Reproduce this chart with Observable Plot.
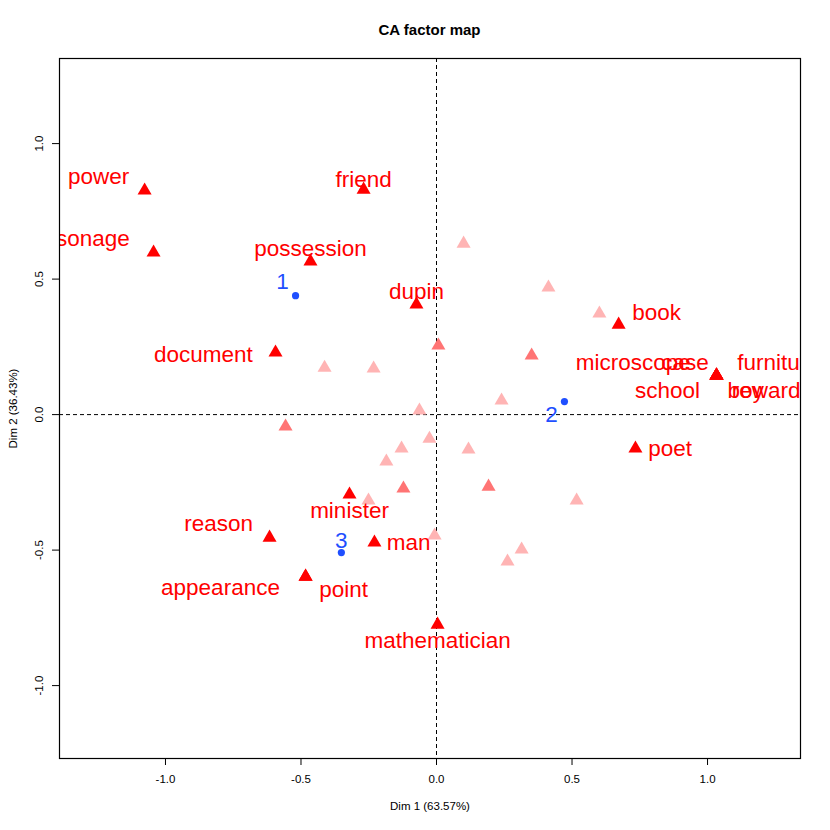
<!DOCTYPE html>
<html><head><meta charset="utf-8">
<script src="https://cdn.jsdelivr.net/npm/d3@7"></script>
<script src="https://cdn.jsdelivr.net/npm/@observablehq/plot@0.6"></script>
<style>
body{margin:0;background:#fff;font-family:"Liberation Sans",Arial,sans-serif;}
#title{height:40px;box-sizing:border-box;padding-top:20px;margin-left:59px;width:741px;text-align:center;font-weight:bold;font-size:15px;line-height:20px;color:#000;}
</style></head><body>
<div id="title">CA factor map</div>
<div id="chart"></div>
<script>
// Labelled column points (words)
const words  = ["power","personage","friend","possession","dupin","document","book","microscope","case","school","furniture","boy","reward","poet","minister","reason","man","appearance","point","mathematician"];
const wordX  = [-1.077,-1.044,-0.269,-0.465,-0.074,-0.594,0.672,1.033,1.033,1.033,1.033,1.033,1.033,0.734,-0.321,-0.616,-0.229,-0.483,-0.483,0.004];
const wordY  = [0.827,0.598,0.830,0.565,0.406,0.229,0.332,0.144,0.144,0.144,0.144,0.144,0.144,-0.125,-0.295,-0.454,-0.472,-0.598,-0.598,-0.775];
// label anchor positions (data units)
const labelX = [-1.247,-1.328,-0.269,-0.465,-0.074,-0.860,0.812,0.726,0.917,0.852,1.262,1.141,1.216,0.862,-0.321,-0.804,-0.103,-0.797,-0.343,0.004];
const labelY = [0.878,0.649,0.867,0.613,0.454,0.221,0.376,0.192,0.192,0.089,0.192,0.089,0.089,-0.125,-0.354,-0.402,-0.472,-0.638,-0.646,-0.834];

// Unlabelled column points, low contribution (pale) and medium contribution
const paleX = [0.100,0.413,0.601,-0.413,-0.232,-0.063,0.240,-0.026,0.118,-0.129,-0.185,-0.251,0.517,-0.007,0.314,0.262];
const paleY = [0.631,0.469,0.373,0.173,0.170,0.015,0.052,-0.089,-0.129,-0.125,-0.173,-0.317,-0.317,-0.446,-0.498,-0.542];
const midX  = [0.007,0.351,-0.557,-0.122,0.192];
const midY  = [0.255,0.218,-0.044,-0.273,-0.266];

// Row points (documents)
const rows   = ["1","2","3"];
const rowX   = [-0.520,0.472,-0.351];
const rowY   = [0.439,0.048,-0.509];
const rowLabX = [-0.568,0.424,-0.351];
const rowLabY = [0.491,0.000,-0.465];

const xTicks = [-1.0,-0.5,0.0,0.5,1.0];
const yTicks = [-1.0,-0.5,0.0,0.5,1.0];
const xDomain = [-1.391,1.343];
const yDomain = [-1.269,1.314];

const wordPts = words.map((w,i)=>({x:wordX[i],y:wordY[i],lx:labelX[i],ly:labelY[i],t:w}));
const palePts = paleX.map((x,i)=>({x,y:paleY[i]}));
const midPts  = midX.map((x,i)=>({x,y:midY[i]}));
const rowPts  = rows.map((r,i)=>({x:rowX[i],y:rowY[i],lx:rowLabX[i],ly:rowLabY[i],t:r}));

const RED = "#ff0000", PALE = "#ffb4b4", MID = "#ff7474", BLUE = "#1f4fff";
const fmt = d => d.toFixed(1);

const chart = Plot.plot({
  width: 830, height: 790,
  marginLeft: 59, marginRight: 30, marginTop: 18, marginBottom: 72,
  style: {fontFamily: '"Liberation Sans", Arial, sans-serif', background: "#fff"},
  x: {domain: xDomain},
  y: {domain: yDomain},
  marks: [
    Plot.ruleX([0], {stroke: "black", strokeDasharray: "4,3"}),
    Plot.ruleY([0], {stroke: "black", strokeDasharray: "4,3"}),
    Plot.dot(palePts, {x: "x", y: "y", symbol: "triangle", r: 5.2, fill: PALE, stroke: "none"}),
    Plot.dot(midPts, {x: "x", y: "y", symbol: "triangle", r: 5.2, fill: MID, stroke: "none"}),
    Plot.dot(wordPts, {x: "x", y: "y", symbol: "triangle", r: 5.2, fill: RED, stroke: "none"}),
    Plot.dot(rowPts, {x: "x", y: "y", r: 3.6, fill: BLUE, stroke: "none"}),
    Plot.text(wordPts, {x: "lx", y: "ly", text: "t", fill: RED, fontSize: 22.5, clip: true}),
    Plot.text(rowPts, {x: "lx", y: "ly", text: "t", fill: BLUE, fontSize: 22.5, clip: true}),
    Plot.frame({stroke: "black", strokeWidth: 1.2}),
    Plot.axisX({ticks: xTicks, tickFormat: fmt, tickSize: 7, tickPadding: 9, fontSize: 11.5,
      label: "Dim 1 (63.57%)", labelAnchor: "center", labelArrow: "none", labelOffset: 51}),
    Plot.axisY({ticks: yTicks, tickFormat: fmt, tickSize: 7, tickPadding: 10, tickRotate: -90, fontSize: 11.5,
      label: "Dim 2 (36.43%)", labelAnchor: "center", labelArrow: "none", labelOffset: 51})
  ]
});
document.getElementById("chart").appendChild(chart);
</script></body></html>
